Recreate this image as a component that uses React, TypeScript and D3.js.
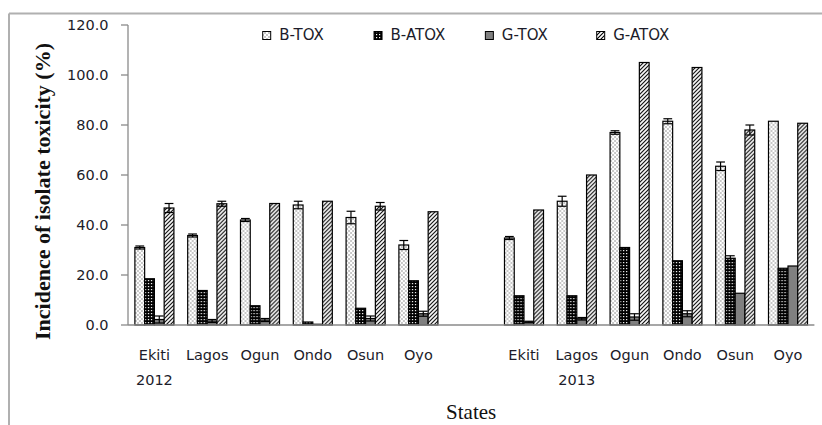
import React from "react";
import * as d3 from "d3";

// ---- data ----
const states = ["Ekiti", "Lagos", "Ogun", "Ondo", "Osun", "Oyo"];
const years = ["2012", "2013"];
const seriesNames = ["B-TOX", "B-ATOX", "G-TOX", "G-ATOX"];
const yTicks = [0, 20, 40, 60, 80, 100, 120];

const btox2012 = [31.0, 35.8, 42.0, 48.0, 43.0, 32.0];
const btoxErr2012 = [0.6, 0.6, 0.6, 1.5, 2.5, 1.8];
const batox2012 = [18.5, 13.8, 7.7, 1.2, 6.7, 17.7];
const batoxErr2012 = [0, 0, 0, 0, 0, 0];
const gtox2012 = [2.2, 1.6, 2.0, 0.3, 2.6, 4.5];
const gtoxErr2012 = [1.4, 0.6, 0.6, 0, 1.0, 1.0];
const gatox2012 = [46.8, 48.5, 48.6, 49.5, 47.5, 45.3];
const gatoxErr2012 = [1.8, 1.0, 0, 0, 1.5, 0];

const btox2013 = [34.8, 49.5, 77.0, 81.5, 63.5, 81.5];
const btoxErr2013 = [0.6, 2.0, 0.7, 1.0, 1.7, 0];
const batox2013 = [11.7, 11.7, 31.0, 25.7, 26.7, 22.7];
const batoxErr2013 = [0, 0, 0, 0, 1.0, 0];
const gtox2013 = [1.2, 2.5, 3.2, 4.5, 12.7, 23.6];
const gtoxErr2013 = [0.3, 0.5, 1.3, 1.2, 0, 0];
const gatox2013 = [46.0, 60.0, 105.0, 103.0, 78.0, 80.7];
const gatoxErr2013 = [0, 0, 0, 0, 2.0, 0];

// year label sits under this state of each year
const yearLabelState = ["Ekiti", "Lagos"];

// ---- build rows ----
const valuesByYear = [
  [btox2012, batox2012, gtox2012, gatox2012],
  [btox2013, batox2013, gtox2013, gatox2013],
];
const errsByYear = [
  [btoxErr2012, batoxErr2012, gtoxErr2012, gatoxErr2012],
  [btoxErr2013, batoxErr2013, gtoxErr2013, gatoxErr2013],
];

type Row = { key: string; state: string; year: string; vals: number[]; errs: number[] };
const rows: Row[] = [];
years.forEach((yr, yi) => {
  states.forEach((st, si) => {
    rows.push({
      key: st + " " + yr,
      state: st,
      year: yr,
      vals: valuesByYear[yi].map((s) => s[si]),
      errs: errsByYear[yi].map((s) => s[si]),
    });
  });
});
const domainKeys = [
  ...states.map((s) => s + " 2012"),
  "gap",
  ...states.map((s) => s + " 2013"),
];

const W = 822;
const H = 425;
const left = 128;
const right = 814.4;
const top = 25;
const bottom = 325;

const patIds = ["pDots", "pChk", "pGray", "pHatch"];

export default function App() {
  const x0 = d3
    .scaleBand<string>()
    .domain(domainKeys)
    .range([left, right])
    .paddingInner(0.261)
    .paddingOuter(0.1305);
  const x1 = d3
    .scaleBand<string>()
    .domain(seriesNames)
    .range([0, x0.bandwidth()]);
  const y = d3.scaleLinear().domain([0, 120]).range([bottom, top]);
  const fmt = d3.format(".1f");
  const legendX = d3
    .scalePoint<string>()
    .domain(seriesNames)
    .range([262.7, 596.7]);

  const font = "'DejaVu Sans', Verdana, sans-serif";
  const textCol = "#1c1c2a";
  const axisCol = "#8a8a8a";
  const bw = x1.bandwidth();

  return (
    <svg
      width={W}
      height={H}
      style={{ position: "absolute", left: 0, top: 0, background: "#fff" }}
    >
      <defs>
        <pattern id="pDots" width="4" height="4" patternUnits="userSpaceOnUse">
          <rect width="4" height="4" fill="#fff" />
          <rect x="0.5" y="0.5" width="1" height="1" fill="#222" />
          <rect x="2.5" y="2.5" width="1" height="1" fill="#222" />
        </pattern>
        <pattern id="pChk" width="3" height="3" patternUnits="userSpaceOnUse">
          <rect width="3" height="3" fill="#000" />
          <rect x="1" y="1" width="1.2" height="1.2" fill="#fff" />
        </pattern>
        <pattern id="pGray" width="4" height="4" patternUnits="userSpaceOnUse">
          <rect width="4" height="4" fill="#808080" />
        </pattern>
        <pattern id="pHatch" width="4" height="4" patternUnits="userSpaceOnUse">
          <rect width="4" height="4" fill="#fff" />
          <path d="M-1,1 L1,-1 M0,4 L4,0 M3,5 L5,3" stroke="#000" strokeWidth="1.1" />
        </pattern>
      </defs>

      {/* frame */}
      <line x1={9} y1={13.5} x2={W} y2={13.5} stroke="#b0b0b0" strokeWidth={2} />
      <line x1={9} y1={13.5} x2={9} y2={H} stroke="#b0b0b0" strokeWidth={2} />

      {/* bars */}
      {rows.map((r) => (
        <g key={r.key} transform={`translate(${x0(r.key)},0)`}>
          {seriesNames.map((s, i) => {
            const v = r.vals[i];
            const bx = x1(s) as number;
            return (
              <rect
                key={s}
                x={bx}
                y={y(v)}
                width={bw}
                height={y(0) - y(v)}
                fill={`url(#${patIds[i]})`}
                stroke="#000"
                strokeWidth={1.2}
              />
            );
          })}
          {seriesNames.map((s, i) => {
            const e = r.errs[i];
            if (!e) return null;
            const v = r.vals[i];
            const cx = (x1(s) as number) + bw / 2;
            const hw = bw * 0.45;
            return (
              <g key={"e" + s} stroke="#000" strokeWidth={1.2}>
                <line x1={cx} x2={cx} y1={y(v + e)} y2={y(Math.max(0, v - e))} />
                <line x1={cx - hw} x2={cx + hw} y1={y(v + e)} y2={y(v + e)} />
                <line
                  x1={cx - hw}
                  x2={cx + hw}
                  y1={y(Math.max(0, v - e))}
                  y2={y(Math.max(0, v - e))}
                />
              </g>
            );
          })}
        </g>
      ))}

      {/* y axis */}
      <line x1={left} x2={left} y1={top} y2={bottom} stroke={axisCol} strokeWidth={1.3} />
      {yTicks.map((t) => (
        <g key={t}>
          <line x1={left - 7} x2={left} y1={y(t)} y2={y(t)} stroke={axisCol} strokeWidth={1.3} />
          <text
            x={108.5}
            y={y(t)}
            dy="0.35em"
            textAnchor="end"
            fontFamily={font}
            fontSize={14.5}
            fill={textCol}
          >
            {fmt(t)}
          </text>
        </g>
      ))}

      {/* x axis */}
      <line x1={left} x2={right} y1={bottom} y2={bottom} stroke={axisCol} strokeWidth={1.3} />
      {rows.map((r) => (
        <text
          key={"l" + r.key}
          x={(x0(r.key) as number) + x0.bandwidth() / 2}
          y={360}
          textAnchor="middle"
          fontFamily={font}
          fontSize={14.5}
          fill={textCol}
        >
          {r.state}
        </text>
      ))}
      {years.map((yr, i) => {
        const k = yearLabelState[i] + " " + yr;
        return (
          <text
            key={"y" + yr}
            x={(x0(k) as number) + x0.bandwidth() / 2}
            y={385}
            textAnchor="middle"
            fontFamily={font}
            fontSize={14.5}
            fill={textCol}
          >
            {yr}
          </text>
        );
      })}

      {/* axis titles */}
      <text
        x={(x0("gap") as number) + x0.bandwidth() / 2}
        y={419}
        textAnchor="middle"
        fontFamily="'Liberation Serif', 'Times New Roman', serif"
        fontSize={21}
        fill="#111"
      >
        States
      </text>
      <text
        transform={`translate(50,191.5) rotate(-90)`}
        textAnchor="middle"
        fontFamily="'Liberation Serif', 'Times New Roman', serif"
        fontWeight="bold"
        fontSize={22}
        fill="#111"
      >
        Incidence of  isolate toxicity (%)
      </text>

      {/* legend */}
      {seriesNames.map((s, i) => {
        const lx = legendX(s) as number;
        return (
          <g key={"lg" + s}>
            <rect
              x={lx}
              y={31.5}
              width={8}
              height={8}
              fill={`url(#${patIds[i]})`}
              stroke="#000"
              strokeWidth={1}
            />
            <text x={lx + 16.5} y={39.5} fontFamily={font} fontSize={15} fill={textCol}>
              {s}
            </text>
          </g>
        );
      })}
    </svg>
  );
}
